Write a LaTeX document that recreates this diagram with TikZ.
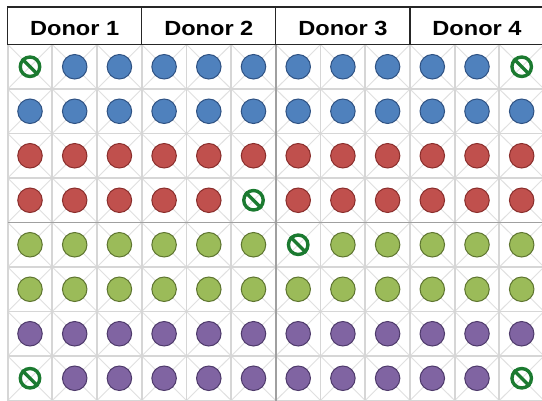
\documentclass[tikz,border=0pt]{standalone}
\usepackage{fontspec}
\newfontfamily\hdrfont[FakeStretch=1.15]{Liberation Sans}
\definecolor{blfill}{HTML}{4F81BD}\definecolor{bldraw}{HTML}{2F5283}
\definecolor{rdfill}{HTML}{C0504D}\definecolor{rddraw}{HTML}{8A2E2C}
\definecolor{grfill}{HTML}{9BBB59}\definecolor{grdraw}{HTML}{5E7530}
\definecolor{pufill}{HTML}{8064A2}\definecolor{pudraw}{HTML}{4E3A6B}
\definecolor{forbgreen}{HTML}{1B7A30}
\definecolor{gridlight}{HTML}{D6D6D6}
\definecolor{griddark}{HTML}{A0A0A0}
\definecolor{diaggray}{HTML}{E0E0E0}
\expandafter\def\csname forb-1-1\endcsname{}
\expandafter\def\csname forb-1-12\endcsname{}
\expandafter\def\csname forb-4-6\endcsname{}
\expandafter\def\csname forb-5-7\endcsname{}
\expandafter\def\csname forb-8-1\endcsname{}
\expandafter\def\csname forb-8-12\endcsname{}
\tikzset{
  diagline/.style={draw=diaggray, line width=0.9},
  gridline/.style={draw=gridlight, line width=1.8},
  gridstrong/.style={draw=griddark, line width=1.6},
  hdrbox/.style={draw=black!85, line width=1.2},
  hdrtext/.style={font=\hdrfont\bfseries\fontsize{20.5}{22}\selectfont, anchor=base, inner sep=0},
  dot/.style={circle, inner sep=0, minimum size=24.5, line width=1},
  forbid/.style={circle, inner sep=0, minimum size=19.5, draw=forbgreen, line width=3.4},
}
\begin{document}
\begin{tikzpicture}[x=1pt,y=-1pt]
\useasboundingbox (0,0) rectangle (542,400);
\fill[white] (0,0) rectangle (542,400);
% diagonals
\foreach \i in {0,...,11}{
  \foreach \j in {0,...,7}{
    \draw[diagline] ({7.65+44.7*\i},{44.5+44.5*\j}) -- ++(44.7,44.5);
    \draw[diagline] ({7.65+44.7*(\i+1)},{44.5+44.5*\j}) -- ++(-44.7,44.5);
  }
}
% grid
\foreach \i in {0,...,12}{
  \draw[gridline] ({7.65+44.7*\i},44.5) -- ({7.65+44.7*\i},401);
}
\foreach \j in {1,...,8}{
  \draw[gridline] (7.65,{44.5+44.5*\j}) -- (560,{44.5+44.5*\j});
}
\draw[gridstrong] ({7.65+44.7*6},44.5) -- ({7.65+44.7*6},401);
\draw[gridstrong] (7.65,{44.5+44.5*4}) -- (560,{44.5+44.5*4});
% header
\fill[white] (7.65,7) rectangle (560,44.5);
\draw[hdrbox] (7.65,7) rectangle (560,44.5);
\foreach \i in {3,6,9}{
  \draw[hdrbox] ({7.65+44.7*\i},7) -- ({7.65+44.7*\i},44.5);
}
\foreach \d in {1,...,4}{
  \node[hdrtext] (donor\d) at ({7.65+44.7*(3*\d-1.5)},35) {Donor \d};
}
% dots
\foreach \r/\cl in {1/bl,2/bl,3/rd,4/rd,5/gr,6/gr,7/pu,8/pu}{
  \foreach \c in {1,...,12}{
    \ifcsname forb-\r-\c\endcsname
      \node[forbid] (c-\r-\c) at ({7.65+44.7*(\c-0.5)},{44.5+44.5*(\r-0.5)}) {};
      \draw[forbgreen, line width=3.4] (c-\r-\c.135) -- (c-\r-\c.-45);
    \else
      \node[dot, fill=\cl fill, draw=\cl draw] (c-\r-\c) at ({7.65+44.7*(\c-0.5)},{44.5+44.5*(\r-0.5)}) {};
    \fi
  }
}
\end{tikzpicture}
\end{document}
